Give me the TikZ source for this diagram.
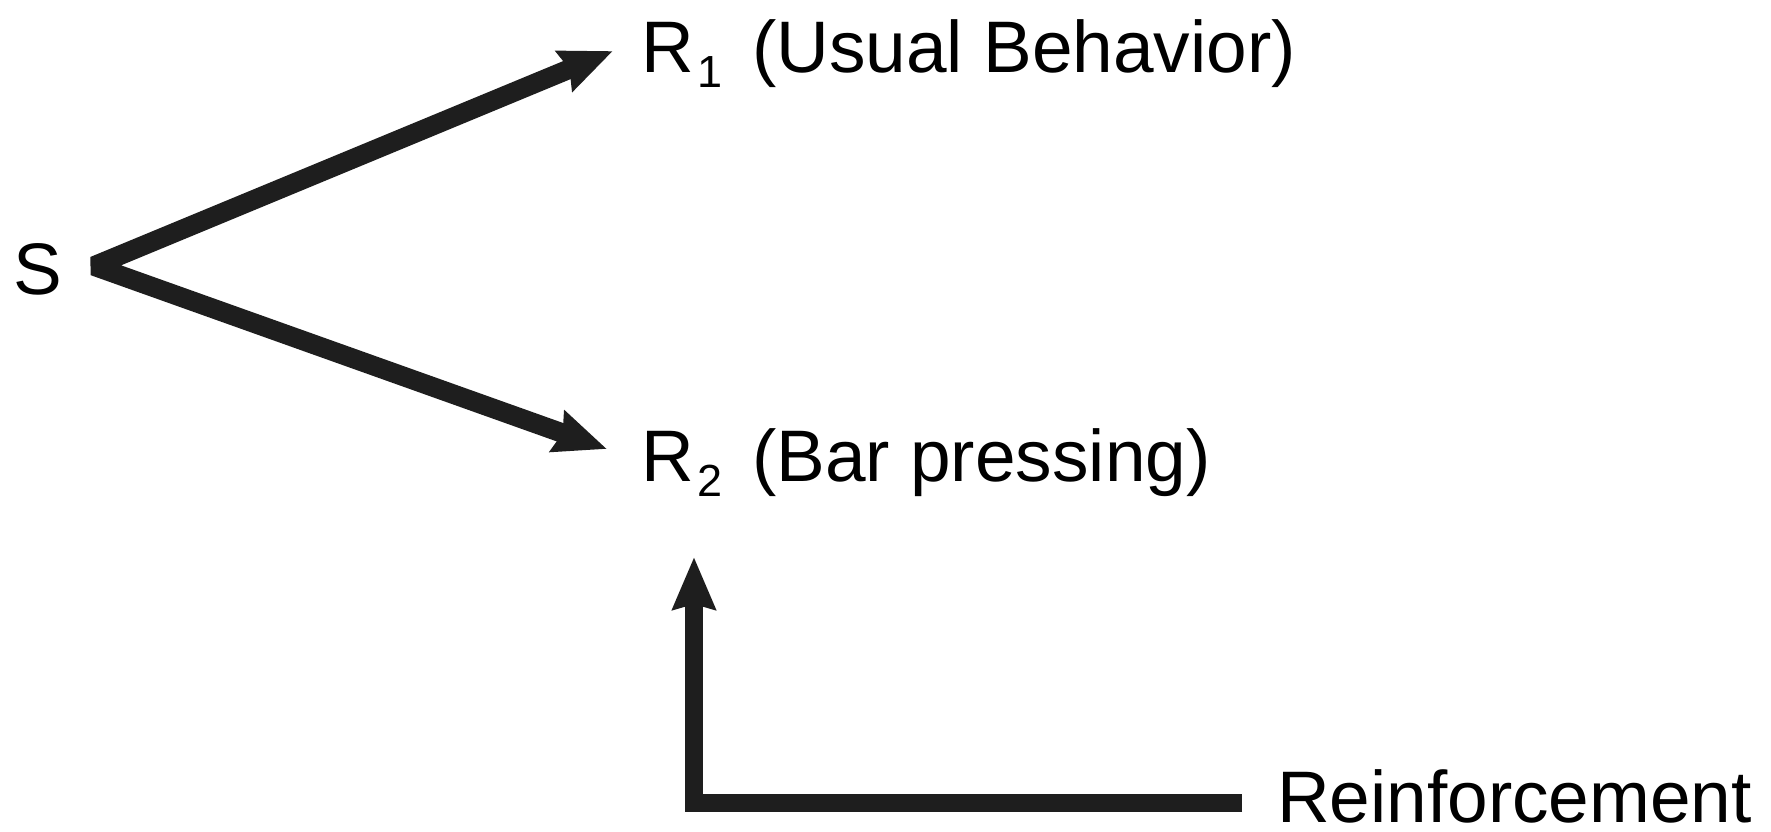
\documentclass[tikz,border=0pt]{standalone}
\usepackage{fontspec}
\setmainfont{Liberation Sans}
\usetikzlibrary{arrows.meta}
\newcommand{\sub}[1]{\kern4pt\raisebox{-15pt}{\fontsize{45}{45}\selectfont #1}\kern9pt\ }
\tikzset{
  lbl/.style={anchor=base west, inner sep=0pt, font=\fontsize{73}{80}\selectfont},
  conn/.style={line width=17.5pt, line join=miter, draw={rgb,255:red,30;green,30;blue,30}},
  diag/.style={conn, line width=19.5pt, line join=bevel},
  tip/.tip={Stealth[inset=5pt, length=52pt, width=42pt]},
}
\begin{document}
\begin{tikzpicture}[x=1pt, y=-1pt]
\useasboundingbox (0,0) rectangle (1771,831);
\node[lbl] (S) at (13,294) {S};
\node[lbl] (R1) at (641,72) {R\sub{1}(Usual Behavior)};
\node[lbl] (R2) at (641,481) {R\sub{2}(Bar pressing)};
\node[lbl] (Re) at (1277,822) {Reinforcement};
\coordinate (apex) at (94,266);
\coordinate (t1) at (613,51);
\coordinate (t2) at (607,449);
\coordinate (t3) at (694,557);
\coordinate (corner) at (694,803);
\coordinate (rend) at (1242,803);
\draw[diag, tip-tip] (t1) -- (apex) -- (t2);
\draw[conn, -tip] (rend) -- (corner) -- (t3);
\end{tikzpicture}
\end{document}
